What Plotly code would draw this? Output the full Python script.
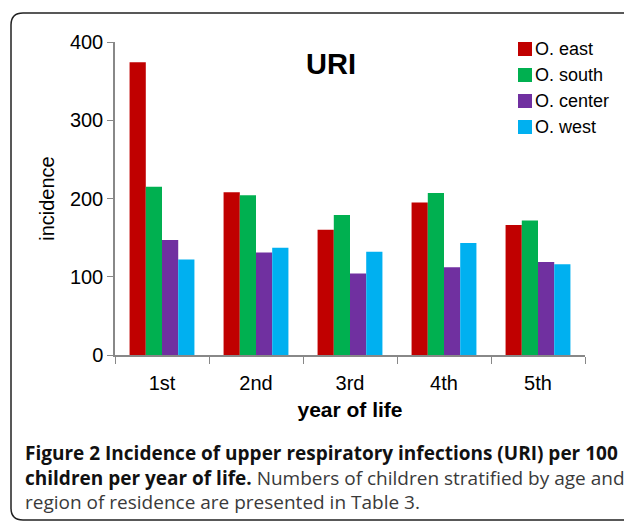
import plotly.graph_objects as go

years = ["1st", "2nd", "3rd", "4th", "5th"]
series_names = ["O. east", "O. south", "O. center", "O. west"]
east = [374, 208, 160, 195, 166]
south = [215, 204, 179, 207, 172]
center = [147, 131, 104, 112, 119]
west = [122, 137, 132, 143, 116]
colors = ["#C00000", "#00B050", "#7030A0", "#00B0F0"]
y_ticks = [0, 100, 200, 300, 400]

W, H = 624, 521
L, R, T, B = 115, 39, 42, 166
PW, PH = W - L - R, H - T - B

def px(xp):
    return (xp - L) / PW

def py(yp):
    return (H - B - yp) / PH

fig = go.Figure()
for name, vals, col in zip(series_names, [east, south, center, west], colors):
    fig.add_trace(go.Bar(x=years, y=vals, name=name, marker=dict(color=col, line=dict(width=0))))

sans = "Liberation Sans, Arial, sans-serif"
axis_font = dict(family=sans, size=20, color="#000")
fig.update_layout(
    width=W, height=H,
    margin=dict(l=L, r=R, t=T, b=B),
    paper_bgcolor="white", plot_bgcolor="white",
    barmode="group", bargap=0.31, bargroupgap=0,
    showlegend=False,
    font=axis_font,
)
fig.update_yaxes(range=[0, 400], tickvals=y_ticks, ticks="outside", ticklen=6, tickcolor="#888",
                 showline=True, linecolor="#888", linewidth=1.5, showgrid=False, zeroline=False,
                 tickfont=axis_font,
                 title=dict(text="incidence", font=dict(family=sans, size=20), standoff=10))
fig.update_xaxes(ticks="outside", ticklen=7, tickcolor="#888", tickson="boundaries",
                 showline=True, linecolor="#888", linewidth=1.5, showgrid=False,
                 tickfont=dict(family=sans, size=20), ticklabelstandoff=9,
                 title=dict(text="<b>year of life</b>", font=dict(family=sans, size=21), standoff=10))

# chart title
fig.add_annotation(text="<b>URI</b>", x=px(331), y=py(64), xref="paper", yref="paper",
                   xanchor="center", yanchor="middle", showarrow=False,
                   font=dict(family=sans, size=29, color="#000"))

# manual legend
row_y = [49, 75, 101, 127]
for name, col, yy in zip(series_names, colors, row_y):
    fig.add_shape(type="rect", xref="paper", yref="paper",
                  x0=px(518), x1=px(532), y0=py(yy - 7), y1=py(yy + 7),
                  fillcolor=col, line=dict(width=0))
    fig.add_annotation(text=name, x=px(533), y=py(yy), xref="paper", yref="paper",
                       xanchor="left", yanchor="middle", showarrow=False,
                       font=dict(family=sans, size=18, color="#000"))

caption = ("<b><span style='color:#111'>Figure 2 Incidence of upper respiratory infections (URI) per 100</span></b><br>"
           "<b><span style='color:#111'>children per year of life.</span></b> Numbers of children stratified by age and<br>"
           "region of residence are presented in Table 3.")
fig.add_annotation(text=caption, x=px(23), y=py(477), xref="paper", yref="paper", showarrow=False,
                   align="left", xanchor="left", yanchor="middle",
                   font=dict(family="Open Sans, sans-serif", size=19, color="#3a3a3a"))

# rounded border
r = 12
x0, y0, x1, y1 = 11, 13, 660, 520
path = (f"M {px(x1)} {py(y0)} L {px(x0 + r)} {py(y0)} Q {px(x0)} {py(y0)} {px(x0)} {py(y0 + r)} "
        f"L {px(x0)} {py(y1 - r)} Q {px(x0)} {py(y1)} {px(x0 + r)} {py(y1)} L {px(x1)} {py(y1)}")
fig.add_shape(type="path", path=path, xref="paper", yref="paper", line=dict(color="#222", width=1.5), layer="below")

fig.write_html("out.html", config={"displayModeBar": False},
               post_script="document.body.style.margin='0';document.body.style.overflow='hidden';")
